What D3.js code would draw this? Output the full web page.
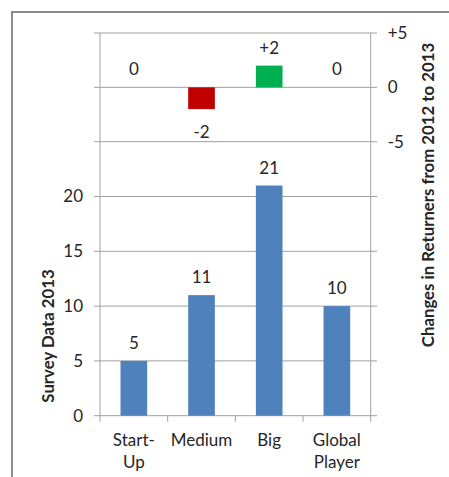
<!DOCTYPE html>
<html>
<head>
<meta charset="utf-8">
<script src="https://cdn.jsdelivr.net/npm/d3@7"></script>
<style>
  html, body { margin: 0; padding: 0; background: #fff; }
  svg { display: block; }
  text { font-family: Lato, "Open Sans", sans-serif; fill: #262626; }
</style>
</head>
<body>
<svg id="chart" width="449" height="477"></svg>
<script>
const categories = ["Start-Up", "Medium", "Big", "Global Player"];
const categoryLines = [["Start-", "Up"], ["Medium"], ["Big"], ["Global", "Player"]];
const surveyValues = [5, 11, 21, 10];
const changeValues = [0, -2, 2, 0];
const changeLabels = ["0", "-2", "+2", "0"];
const leftTicks = [0, 5, 10, 15, 20];
const rightTicks = [-5, 0, 5];
const rightTickLabels = ["-5", "0", "+5"];
const leftTitle = "Survey Data 2013";
const rightTitle = "Changes in Returners from 2012 to 2013";

const svg = d3.select("#chart");
const plot = { left: 100, right: 370.7, top: 33, mid: 141.7, bottom: 415.7 };
const gridColor = "#a0a0a0";
const fs = "17px";

// outer frame (top and left edges visible)
svg.append("path")
  .attr("d", "M12,477 L12,12 L449,12")
  .attr("fill", "none").attr("stroke", "#8c8c8c").attr("stroke-width", 2);

const p = 0.606;
const x = d3.scaleBand().domain(categories)
  .range([plot.left, plot.right]).paddingInner(p).paddingOuter(p / 2);
const yBottom = d3.scaleLinear().domain([0, 25]).range([plot.bottom, plot.mid]);
const yTop = d3.scaleLinear().domain([-5, 5]).range([plot.mid, plot.top]);

// gridlines
const grid = svg.append("g");
leftTicks.forEach(t => {
  grid.append("line").attr("x1", 94).attr("x2", 377)
    .attr("y1", yBottom(t)).attr("y2", yBottom(t))
    .attr("stroke", gridColor).attr("stroke-width", 1);
});
rightTicks.forEach(t => {
  grid.append("line").attr("x1", 94).attr("x2", 377)
    .attr("y1", yTop(t)).attr("y2", yTop(t))
    .attr("stroke", gridColor).attr("stroke-width", 1);
});
// vertical axis lines
[plot.left, plot.right].forEach(xx => {
  grid.append("line").attr("x1", xx).attr("x2", xx)
    .attr("y1", plot.top).attr("y2", plot.bottom + 6)
    .attr("stroke", gridColor).attr("stroke-width", 1);
});
// category boundary ticks
categories.forEach((c, i) => {
  if (i === 0) return;
  const xx = x(c) - x.step() * p / 2;
  grid.append("line").attr("x1", xx).attr("x2", xx)
    .attr("y1", plot.bottom).attr("y2", plot.bottom + 6)
    .attr("stroke", gridColor).attr("stroke-width", 1);
});

// left axis labels
const leftAxis = d3.axisLeft(yBottom).tickValues(leftTicks).tickSize(0).tickPadding(17);
const gl = svg.append("g").attr("transform", `translate(${plot.left},0)`).call(leftAxis);
gl.select(".domain").remove();
gl.selectAll("text").style("font-size", fs).attr("fill", "#262626");

// right axis labels
const rightAxis = d3.axisRight(yTop).tickValues(rightTicks).tickSize(0).tickPadding(17)
  .tickFormat((d, i) => rightTickLabels[i]);
const gr = svg.append("g").attr("transform", `translate(${plot.right},0)`).call(rightAxis);
gr.select(".domain").remove();
gr.selectAll("text").style("font-size", fs).attr("fill", "#262626");

// bottom bars
svg.append("g").selectAll("rect").data(surveyValues).join("rect")
  .attr("x", (d, i) => x(categories[i]))
  .attr("width", x.bandwidth())
  .attr("y", d => yBottom(d))
  .attr("height", d => yBottom(0) - yBottom(d))
  .attr("fill", "#4F81BD");

svg.append("g").selectAll("text").data(surveyValues).join("text")
  .attr("x", (d, i) => x(categories[i]) + x.bandwidth() / 2)
  .attr("y", d => yBottom(d) - 12)
  .attr("text-anchor", "middle")
  .style("font-size", fs)
  .text(d => d);

// top change bars
const changeColor = d => d > 0 ? "#00B050" : "#C00000";
svg.append("g").selectAll("rect").data(changeValues).join("rect")
  .attr("x", (d, i) => x(categories[i]))
  .attr("width", x.bandwidth())
  .attr("y", d => yTop(Math.max(0, d)))
  .attr("height", d => Math.abs(yTop(d) - yTop(0)))
  .attr("fill", changeColor);

svg.append("g").selectAll("text").data(changeValues).join("text")
  .attr("x", (d, i) => x(categories[i]) + x.bandwidth() / 2)
  .attr("y", d => d >= 0 ? yTop(d) - 12 : yTop(d) + 29)
  .attr("text-anchor", "middle")
  .style("font-size", fs)
  .text((d, i) => changeLabels[i]);

// category labels
const cl = svg.append("g");
categoryLines.forEach((lines, i) => {
  const cx = x(categories[i]) + x.bandwidth() / 2;
  lines.forEach((ln, j) => {
    cl.append("text").attr("x", cx).attr("y", 446 + j * 22)
      .attr("text-anchor", "middle").style("font-size", fs).text(ln);
  });
});

// axis titles
svg.append("text")
  .attr("transform", "translate(54,336) rotate(-90)")
  .attr("text-anchor", "middle")
  .style("font-size", "16.8px").style("font-weight", "bold")
  .attr("fill", "#000").text(leftTitle);

svg.append("text")
  .attr("transform", "translate(434,195) rotate(-90)")
  .attr("text-anchor", "middle")
  .style("font-size", "16.8px").style("font-weight", "bold")
  .attr("fill", "#000").text(rightTitle);
</script>
</body>
</html>
